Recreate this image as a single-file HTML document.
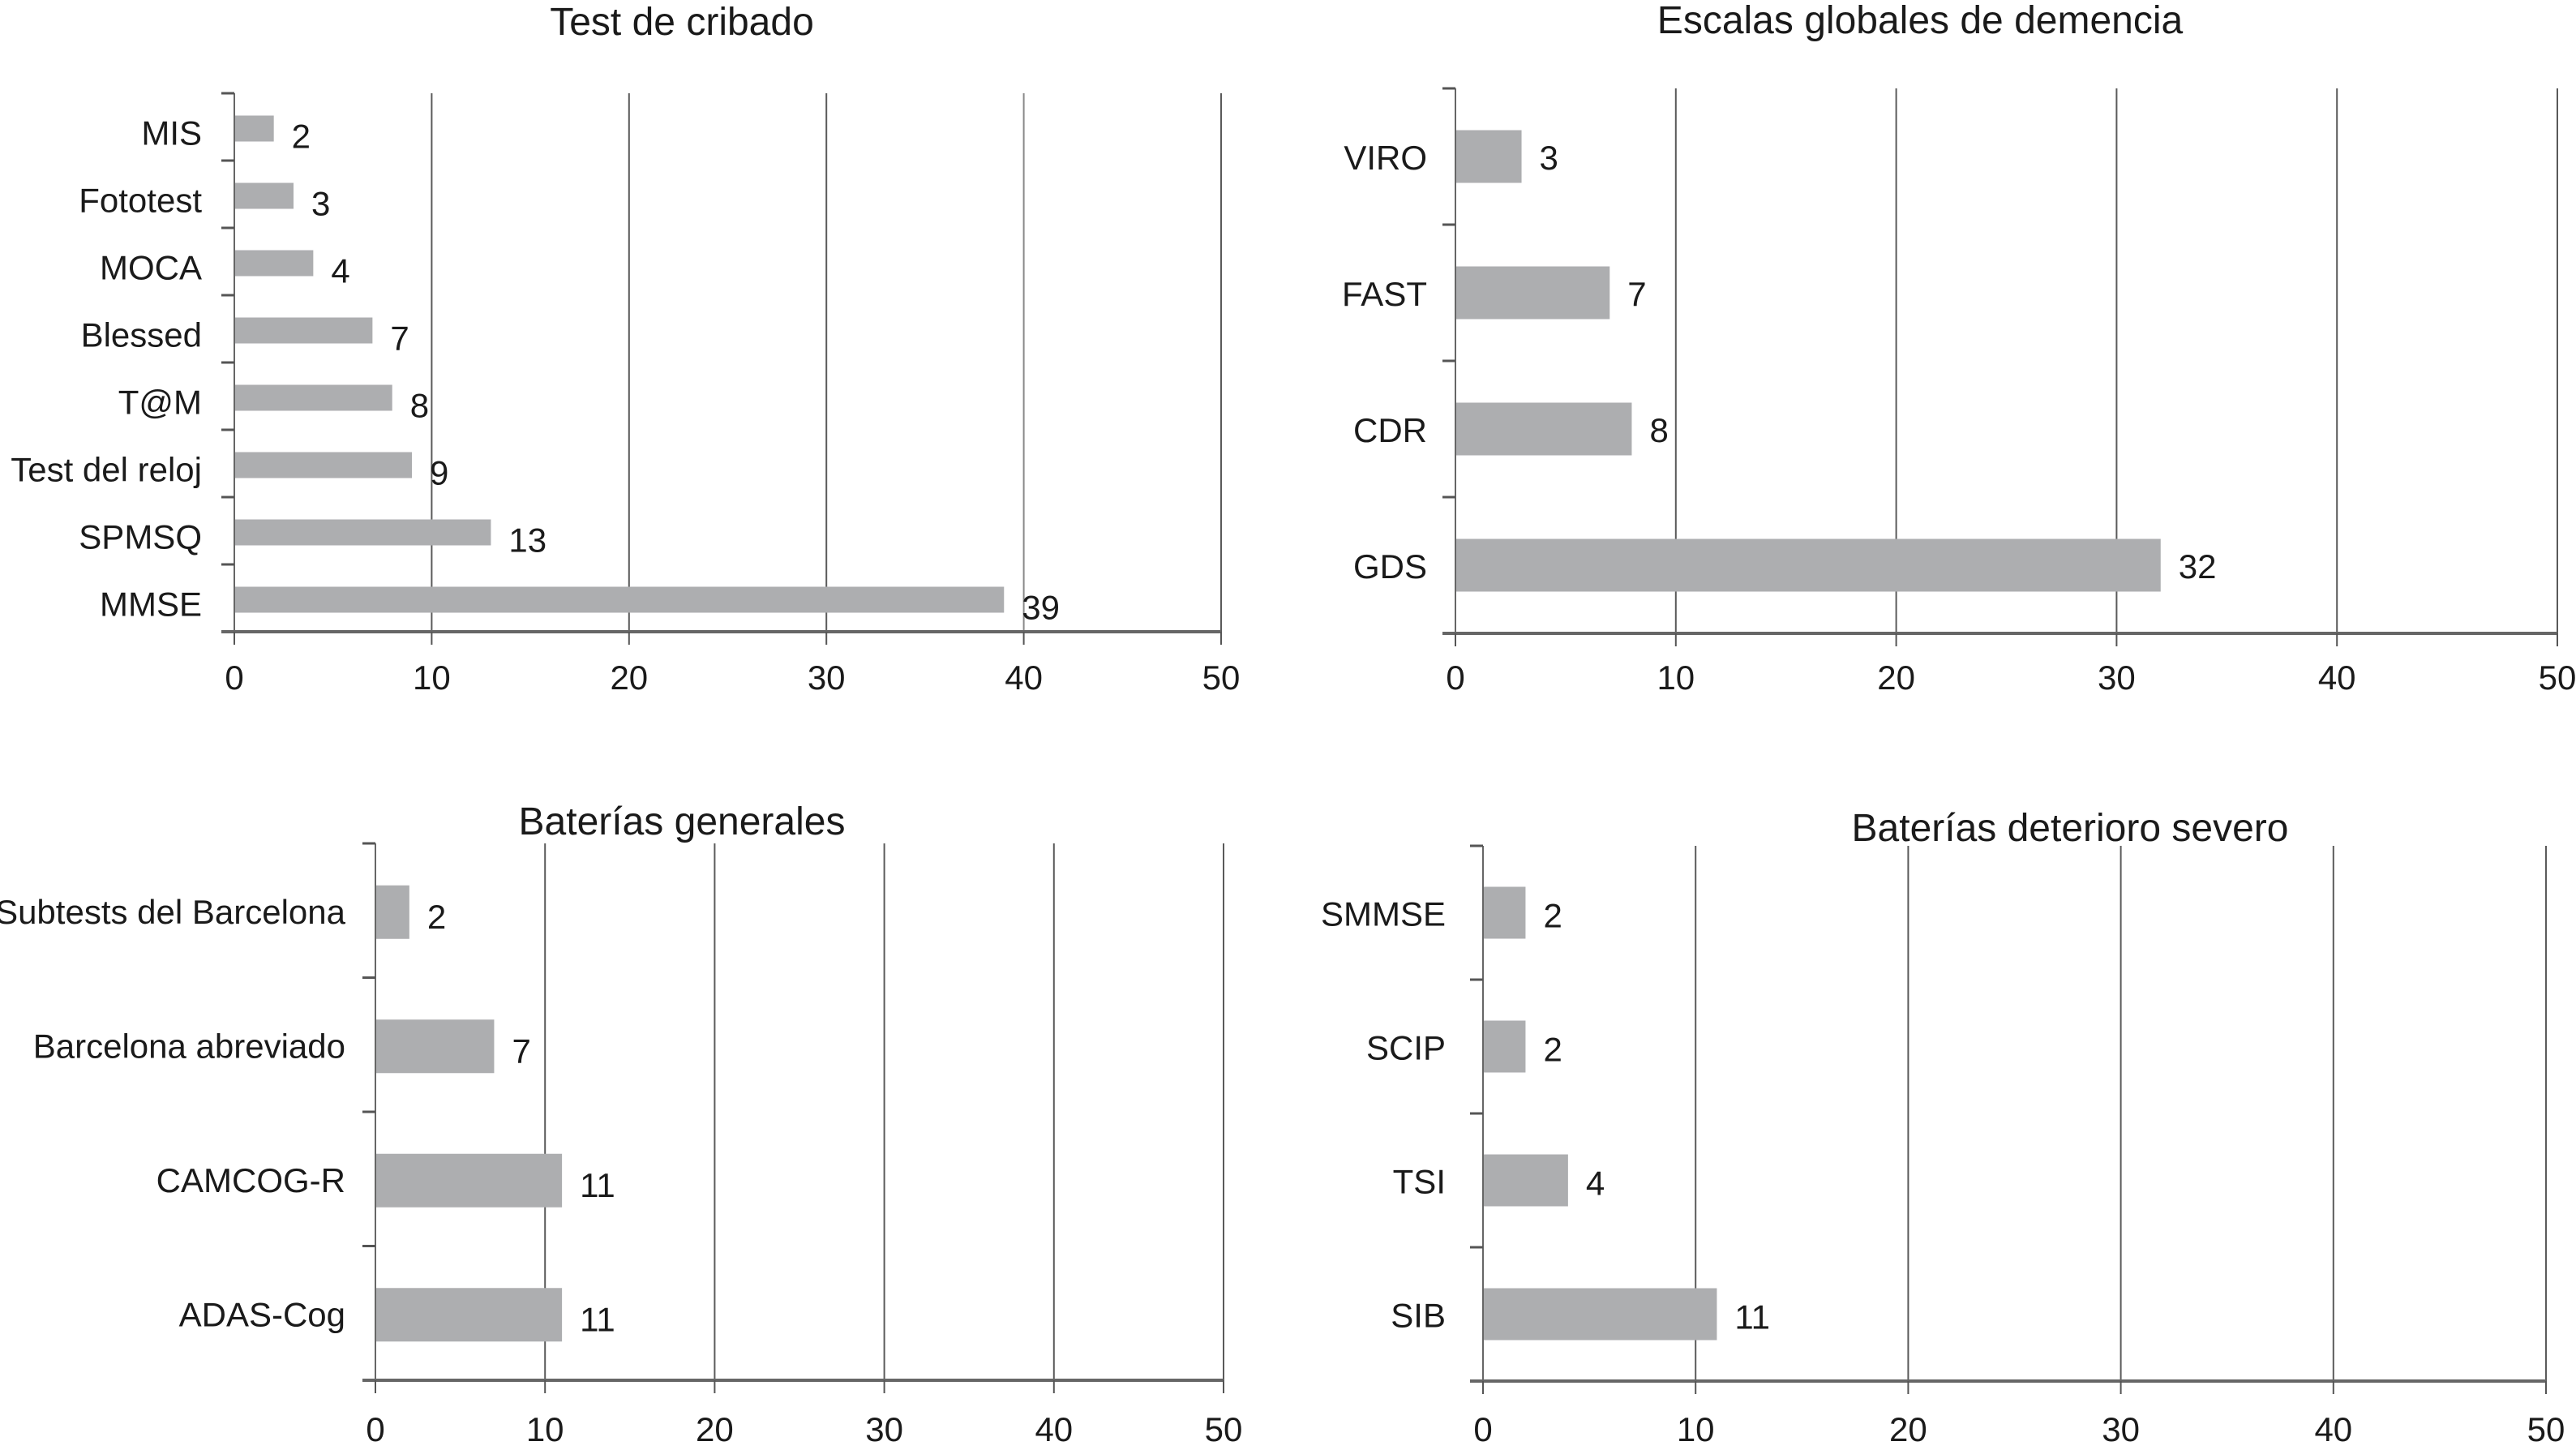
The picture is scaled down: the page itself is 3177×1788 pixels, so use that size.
<!DOCTYPE html>
<html><head><meta charset="utf-8"><style>
html,body{margin:0;padding:0;background:#fff;}
svg{display:block;}
text{font-family:"Liberation Sans",Arial,sans-serif;fill:#1a1a1a;}
</style></head>
<body>
<svg id="fig" width="3177" height="1788" viewBox="0 0 3177 1788" xmlns="http://www.w3.org/2000/svg"></svg>
<script>
// Chart data
const cribadoCats = ["MIS","Fototest","MOCA","Blessed","T@M","Test del reloj","SPMSQ","MMSE"];
const cribadoVals = [2,3,4,7,8,9,13,39];
const escalasCats = ["VIRO","FAST","CDR","GDS"];
const escalasVals = [3,7,8,32];
const generalesCats = ["Subtests del Barcelona","Barcelona abreviado","CAMCOG-R","ADAS-Cog"];
const generalesVals = [2,7,11,11];
const severoCats = ["SMMSE","SCIP","TSI","SIB"];
const severoVals = [2,2,4,11];
const xTicks = [0,10,20,30,40,50];
const titles = ["Test de cribado","Escalas globales de demencia","Baterías generales","Baterías deterioro severo"];

const NS = "http://www.w3.org/2000/svg";
const svg = document.getElementById('fig');
function mk(tag, attrs, parent){
  const e = document.createElementNS(NS, tag);
  for (const k in attrs) e.setAttribute(k, attrs[k]);
  (parent||svg).appendChild(e);
  return e;
}

function drawChart(cfg, cats, vals, title, slug){
  const g = mk('g', {});
  
  
  const xs = v => cfg.x0 + (v - 0) / 50 * (cfg.x1 - cfg.x0);
  const band = (cfg.bottom - cfg.top) / cats.length;
  const yc = i => cfg.top + band * (i + 0.5);
  // gridlines
  xTicks.forEach((t, i) => {
    if (t === 0) return;
    const l = mk('line', {x1: xs(t), x2: xs(t), y1: cfg.top, y2: cfg.bottom, stroke: (i===4 && slug==='cribado') ? '#8a8a8a' : '#5a5a5a', 'stroke-width': 2}, g);
    
    
  });
  // y axis
  const ya = mk('line', {x1: cfg.x0, x2: cfg.x0, y1: cfg.top, y2: cfg.bottom, stroke: '#666', 'stroke-width': 2}, g);
  
  
  for (let i = 0; i <= cats.length; i++) {
    const y = cfg.top + band * i;
    const tk = mk('line', {x1: cfg.x0 - 16, x2: cfg.x0, y1: y, y2: y, stroke: '#555', 'stroke-width': 3}, g);
    
    
  }
  // x axis
  const xa = mk('line', {x1: cfg.x0 - 16, x2: cfg.x1, y1: cfg.bottom, y2: cfg.bottom, stroke: '#666', 'stroke-width': 4}, g);
  
  
  xTicks.forEach(t => {
    const tk = mk('line', {x1: xs(t), x2: xs(t), y1: cfg.bottom, y2: cfg.bottom + 16, stroke: '#555', 'stroke-width': 2}, g);
    
    
    const tl = mk('text', {x: xs(t), y: cfg.tickY, 'text-anchor': 'middle', 'font-size': 42}, g);
    tl.textContent = t;
    
    
  });
  // bars
  cats.forEach((c, i) => {
    const cy = yc(i) + cfg.barOff;
    const b = mk('rect', {x: cfg.x0 + 1, y: cy - cfg.barH/2, width: xs(vals[i]) - cfg.x0 - 1, height: cfg.barH, fill: '#adaeb0'}, g);
    
    
    const vl = mk('text', {x: xs(vals[i]) + 22, y: cy + cfg.valOff, 'font-size': 42}, g);
    vl.textContent = vals[i];
    
    
    const cl = mk('text', {x: cfg.labelX, y: yc(i) + cfg.catOff, 'text-anchor': 'end', 'font-size': 42}, g);
    cl.textContent = c;
    
    
  });
  const tt = mk('text', {x: cfg.titleX, y: cfg.titleY, 'text-anchor': 'middle', 'font-size': 48}, g);
  tt.textContent = title;
  
  
}

drawChart({x0:289,x1:1506,top:115,bottom:779,barH:32,barOff:2,valOff:24,catOff:22,labelX:249,tickY:850,titleX:841,titleY:43}, cribadoCats, cribadoVals, titles[0], 'cribado');
drawChart({x0:1795,x1:3154,top:109,bottom:781,barH:65,barOff:0,valOff:16,catOff:16,labelX:1760,tickY:850,titleX:2368,titleY:41}, escalasCats, escalasVals, titles[1], 'escalas');
drawChart({x0:463,x1:1509,top:1040,bottom:1702,barH:66,barOff:2,valOff:20,catOff:16,labelX:426,tickY:1777,titleX:841,titleY:1029}, generalesCats, generalesVals, titles[2], 'generales');
drawChart({x0:1829,x1:3140,top:1043,bottom:1703,barH:64,barOff:0,valOff:18,catOff:16,labelX:1783,tickY:1777,titleX:2553,titleY:1037}, severoCats, severoVals, titles[3], 'severo');
</script>
</body></html>
